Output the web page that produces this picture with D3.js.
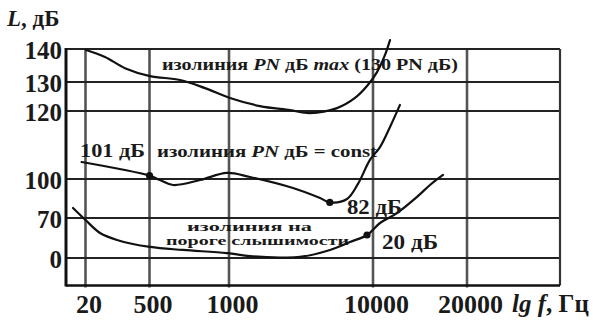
<!DOCTYPE html>
<html>
<head>
<meta charset="utf-8">
<script src="https://cdn.jsdelivr.net/npm/d3@7"></script>
<style>
  html, body { margin: 0; padding: 0; background: #fff; }
  svg { display: block; }
</style>
</head>
<body>
<script>
// Frequency ticks (Hz) and level ticks (dB)
const xTicks = [20, 500, 1000, 10000, 20000];
const yTicks = [0, 70, 100, 120, 130, 140];

// Upper isoline: PN dB max
const maxFreq  = [24, 166, 316, 503, 692, 849, 1062, 2937, 4812, 6062, 7750, 8875, 9625, 10426, 11277, 11809];
const maxLevel = [139.7, 137.6, 134.2, 131.8, 130.6, 127.9, 124.5, 121.7, 120.3, 119.4, 121.0, 124.5, 128.6, 133.0, 138.2, 142.7];

// Middle isoline: PN dB = const
const constFreq  = [18, 500, 566, 648, 818, 987, 2312, 5000, 6690, 7300, 8375, 9060, 9810, 10745, 11810, 12870];
const constLevel = [105, 101, 99.2, 95.4, 99.2, 101.8, 100.6, 93.1, 85.4, 82, 84.6, 96.2, 105.6, 109.4, 115.3, 122.1];

// Lower isoline: threshold of hearing
const threshFreq  = [13.6, 20, 129, 256, 503, 711, 987, 2312, 4190, 5440, 7312, 8562, 9625, 10745, 12553, 14681, 16064, 17447];
const threshLevel = [77.7, 64.1, 25.9, 15.7, 9.6, 7.0, 4.3, 1.7, 0.4, 0.9, 7.0, 13.9, 20, 55.3, 73.8, 86.2, 95.4, 101.2];

// Marked points with their stated levels
const markFreq  = [500, 7300, 9625];
const markLevel = [101, 82, 20];
const markText  = ["101 дБ", "82 дБ", "20 дБ"];

const W = 593, H = 323;
const FONT = "Liberation Serif, Times New Roman, DejaVu Serif, serif";
const INK = "#1a1a1a";

const svg = d3.select("body").append("svg").attr("width", W).attr("height", H)
  .attr("font-family", FONT).attr("font-weight", "bold");

// Schematic (non-proportional) axes: piecewise linear scales
const x = d3.scaleLinear()
  .domain([10, 20, 500, 1000, 10000, 20000, 30000])
  .range([66, 85.5, 149.5, 229, 373, 467, 560]);
const y = d3.scaleLinear()
  .domain([-24, 0, 20, 70, 100, 120, 130, 140])
  .range([285.5, 258, 235, 218, 179, 111, 82, 49]);

const x0 = x.range()[0], x1 = x.range()[x.range().length - 1];
const yB = y.range()[0], yT = y.range()[y.range().length - 1];

// Grid: vertical lines at frequency ticks
svg.append("g").selectAll("line").data(xTicks).join("line")
  .attr("x1", d => x(d)).attr("x2", d => x(d))
  .attr("y1", yT).attr("y2", yB + 2)
  .attr("stroke", "#555").attr("stroke-width", 2.6);

// Grid: horizontal lines at level ticks
svg.append("g").selectAll("line").data(yTicks).join("line")
  .attr("x1", x0).attr("x2", x1)
  .attr("y1", d => y(d)).attr("y2", d => y(d))
  .attr("stroke", "#222").attr("stroke-width", 2.2);

// Frame
svg.append("line").attr("x1", x1).attr("x2", x1).attr("y1", yT).attr("y2", yB)
  .attr("stroke", "#333").attr("stroke-width", 2.2);
svg.append("line").attr("x1", x0).attr("x2", x1).attr("y1", yB).attr("y2", yB)
  .attr("stroke", "#111").attr("stroke-width", 2.6);
svg.append("line").attr("x1", x0).attr("x2", x0).attr("y1", yT - 1).attr("y2", yB + 1)
  .attr("stroke", "#111").attr("stroke-width", 3);

// Axis labels
function styleAxis(g, size) {
  g.attr("font-family", FONT).attr("font-size", size).attr("font-weight", "bold");
  g.select(".domain").remove();
  g.selectAll("text").attr("fill", INK);
}
const yAxis = d3.axisLeft(y).tickValues(yTicks).tickSize(0).tickPadding(4).tickFormat(d3.format("d"));
svg.append("g").attr("transform", `translate(${x0},1)`).call(yAxis).call(styleAxis, 25);

const xAxis = d3.axisBottom(x).tickValues(xTicks).tickSize(0).tickPadding(9).tickFormat(d3.format("d"));
svg.append("g").attr("transform", `translate(3,${yB})`).call(xAxis).call(styleAxis, 26);

// Axis titles
const yTitle = svg.append("text").attr("x", 7).attr("y", 26).attr("font-size", 23).attr("fill", INK);
yTitle.append("tspan").attr("font-style", "italic").text("L");
yTitle.append("tspan").text(", дБ");

const xTitle = svg.append("text").attr("x", 512).attr("y", 312).attr("font-size", 25).attr("fill", INK);
xTitle.append("tspan").attr("font-style", "italic").text("lg f");
xTitle.append("tspan").text(", Гц");

// Curve labels
const lblMax = svg.append("text").attr("x", 162).attr("y", 70).attr("font-size", 17).attr("fill", INK)
  .attr("textLength", 296).attr("lengthAdjust", "spacingAndGlyphs");
lblMax.append("tspan").text("изолиния ");
lblMax.append("tspan").attr("font-style", "italic").text("PN");
lblMax.append("tspan").text(" дБ ");
lblMax.append("tspan").attr("font-style", "italic").text("max");
lblMax.append("tspan").text(" (130 PN дБ)");

const lblConst = svg.append("text").attr("x", 157).attr("y", 157).attr("font-size", 17).attr("fill", INK)
  .attr("textLength", 220).attr("lengthAdjust", "spacingAndGlyphs");
lblConst.append("tspan").text("изолиния ");
lblConst.append("tspan").attr("font-style", "italic").text("PN");
lblConst.append("tspan").text(" дБ = const");

svg.append("text").attr("x", 187).attr("y", 231).attr("font-size", 12.5).attr("fill", INK)
  .attr("textLength", 125).attr("lengthAdjust", "spacingAndGlyphs").text("изолиния на");
svg.append("text").attr("x", 166).attr("y", 245).attr("font-size", 12.5).attr("fill", INK)
  .attr("textLength", 183).attr("lengthAdjust", "spacingAndGlyphs").text("пороге слышимости");

// Curves
const line = d3.line().x(d => x(d[0])).y(d => y(d[1])).curve(d3.curveCatmullRom.alpha(0.5));
const curves = [
  d3.zip(maxFreq, maxLevel),
  d3.zip(constFreq, constLevel),
  d3.zip(threshFreq, threshLevel)
];
svg.append("g").selectAll("path").data(curves).join("path")
  .attr("d", line)
  .attr("fill", "none").attr("stroke", "#111").attr("stroke-width", 2.2)
  .attr("stroke-linecap", "round");

// Marked points
const marks = d3.zip(markFreq, markLevel);
svg.append("g").selectAll("circle").data(marks).join("circle")
  .attr("cx", d => x(d[0])).attr("cy", d => y(d[1])).attr("r", 3.6).attr("fill", "#111");

// Point value labels
const labelPos = [[80, 157, 19, 65], [347, 214, 22, 55], [382, 249, 22, 56]];
svg.append("g").selectAll("text").data(markText).join("text")
  .attr("x", (d, i) => labelPos[i][0]).attr("y", (d, i) => labelPos[i][1])
  .attr("font-size", (d, i) => labelPos[i][2]).attr("fill", INK)
  .attr("textLength", (d, i) => labelPos[i][3]).attr("lengthAdjust", "spacingAndGlyphs")
  .text(d => d);
</script>
</body>
</html>
